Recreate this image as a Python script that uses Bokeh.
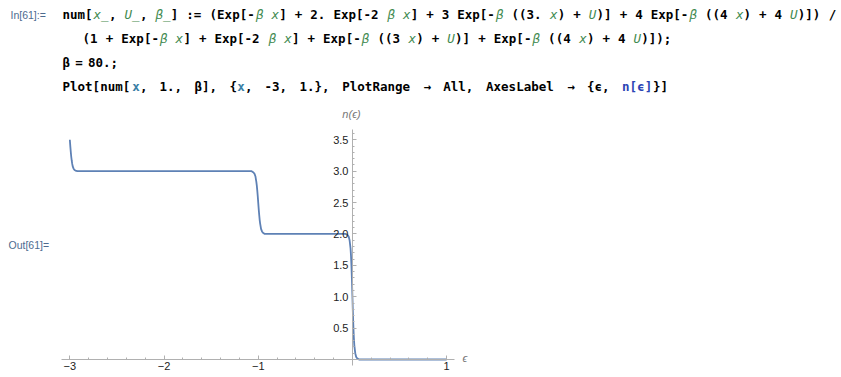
from bokeh.plotting import figure
from bokeh.models import Range1d, LinearAxis, FixedTicker, Label
from bokeh.embed import file_html
from bokeh.resources import INLINE

# ---- data ----
eps = [-3.0, -2.995, -2.99, -2.985, -2.98, -2.975, -2.97, -2.96, -2.95, -2.94, -2.92, -2.9,
       -2.5, -2.0, -1.5, -1.2, -1.1, -1.07, -1.05, -1.04, -1.03, -1.02, -1.015, -1.01, -1.005,
       -1.0, -0.995, -0.99, -0.985, -0.98, -0.97, -0.96, -0.95, -0.93, -0.9, -0.5, -0.2, -0.1,
       -0.07, -0.05, -0.04, -0.03, -0.02, -0.015, -0.01, -0.005, 0.0, 0.005, 0.01, 0.015, 0.02,
       0.03, 0.04, 0.05, 0.07, 0.1, 0.5, 1.0]
n_eps = [3.50, 3.40, 3.31, 3.23, 3.17, 3.12, 3.08, 3.04, 3.02, 3.01, 3.00, 3.00,
         3.00, 3.00, 3.00, 3.00, 3.00, 3.00, 2.98, 2.96, 2.92, 2.83, 2.77, 2.69, 2.60,
         2.50, 2.40, 2.31, 2.23, 2.17, 2.08, 2.04, 2.02, 2.00, 2.00, 2.00, 2.00, 2.00,
         2.00, 1.98, 1.96, 1.90, 1.77, 1.65, 1.48, 1.26, 1.00, 0.74, 0.52, 0.35, 0.23,
         0.10, 0.04, 0.02, 0.00, 0.00, 0.00, 0.00]

x_major = [-3, -2, -1, 0, 1]
x_tick_labels = ["\u22123", "\u22122", "\u22121", "", "1"]
x_minor = [-3 + 0.2 * i for i in range(21)]
y_major = [0, 0.5, 1.0, 1.5, 2.0, 2.5, 3.0, 3.5]
y_tick_labels = ["", "0.5", "1.0", "1.5", "2.0", "2.5", "3.0", "3.5"]
y_minor = [round(0.1 * i, 1) for i in range(37)]

# ---- figure mapped onto the notebook window ----
p = figure(width=841, height=377, output_backend="svg", toolbar_location=None,
           x_axis_type=None, y_axis_type=None, min_border=0,
           x_range=Range1d(-3.736, 5.192), y_range=Range1d(-0.2868, 5.719))
p.outline_line_color = None
p.background_fill_color = "white"
p.border_fill_color = "white"

AX = "#b0b0b0"
TL = "#222222"
xa = LinearAxis(ticker=FixedTicker(ticks=x_major, minor_ticks=x_minor), fixed_location=0,
                bounds=(-3.09, 1.08),
                major_label_overrides={k: v for k, v in zip(x_major, x_tick_labels)})
xa.axis_line_color = AX
xa.major_tick_line_color = AX
xa.minor_tick_line_color = AX
xa.major_tick_in = 4
xa.major_tick_out = 0
xa.minor_tick_in = 2
xa.minor_tick_out = 0
xa.major_label_standoff = 3
xa.major_label_text_font = "Liberation Sans"
xa.major_label_text_font_size = "11px"
xa.major_label_text_color = TL
p.add_layout(xa, "below")

ya = LinearAxis(ticker=FixedTicker(ticks=y_major, minor_ticks=y_minor), fixed_location=0,
                bounds=(-0.1, 3.66),
                major_label_overrides={k: v for k, v in zip(y_major, y_tick_labels)})
ya.axis_line_color = AX
ya.major_tick_line_color = AX
ya.minor_tick_line_color = AX
ya.major_tick_in = 4
ya.major_tick_out = 0
ya.minor_tick_in = 2
ya.minor_tick_out = 0
ya.major_label_standoff = 4
ya.major_label_text_font = "Liberation Sans"
ya.major_label_text_font_size = "11px"
ya.major_label_text_color = TL
p.add_layout(ya, "left")

p.line(eps, n_eps, line_color="#5E81B5", line_width=1.8)

H = 377


def lab(x, ytop, text, color="#000000", size="11px", font="Liberation Sans", style="normal",
        align="left"):
    p.add_layout(Label(x=x, y=H - ytop, x_units="screen", y_units="screen", text=text,
                       text_color=color, text_font_size=size, text_font=font,
                       text_font_style=style, text_baseline="middle", text_align=align))


# axis labels
lab(351, 113, "n(\u03f5)", color="#777777", size="11px", style="italic", align="center")
lab(462, 357, "\u03f5", color="#777777", size="11px", style="italic")

# cell labels
lab(10, 14, "In[61]:=", color="#4d6b8f", size="10.5px")
lab(8, 244, "Out[61]=", color="#4d6b8f", size="10.5px")

K = "#000000"
G = "#3f8a4f"
T = "#3a7fa6"
B = "#2b45b5"

line1 = [("num[", K), ("x_", G), (", ", K), ("U_", G), (", ", K), ("\u03b2_", G),
         ("] := (Exp[-", K), ("\u03b2", G), (" ", K), ("x", G), ("] + 2. Exp[-2 ", K),
         ("\u03b2", G), (" ", K), ("x", G), ("] + 3 Exp[-", K), ("\u03b2", G), (" ((3. ", K),
         ("x", G), (") + ", K), ("U", G), (")] + 4 Exp[-", K), ("\u03b2", G), (" ((4 ", K),
         ("x", G), (") + 4 ", K), ("U", G), (")]) /", K)]
line2 = [("(1 + Exp[-", K), ("\u03b2", G), (" ", K), ("x", G), ("] + Exp[-2 ", K), ("\u03b2", G),
         (" ", K), ("x", G), ("] + Exp[-", K), ("\u03b2", G), (" ((3 ", K), ("x", G),
         (") + ", K), ("U", G), (")] + Exp[-", K), ("\u03b2", G), (" ((4 ", K), ("x", G),
         (") + 4 ", K), ("U", G), (")]);", K)]
line3 = [("\u03b2 = 80.;", K)]
line4 = [("Plot[num[", K), ("x", T), (", 1., \u03b2], {", K), ("x", T),
         (", -3, 1.}, PlotRange \u2192 All, AxesLabel \u2192 {\u03f5, ", K), ("n[\u03f5]", B),
         ("}]", K)]

# (segments, left x, centre y, char advance, space advance)
code_lines = [(line1, 62, 14, 7.74, 7.74), (line2, 82, 38, 7.76, 7.76),
              (line3, 62, 62, 7.74, 5.0), (line4, 62, 86, 7.74, 11.8)]

for segs, x0, yc, cw, sw in code_lines:
    xpos = x0
    for text, col in segs:
        style = "italic" if col == G else "bold"
        tok = ""
        start = xpos
        for ch in text:
            if ch == " ":
                if tok:
                    lab(start, yc, tok, color=col, size="12.5px",
                        font="DejaVu Sans Mono", style=style)
                tok = ""
                xpos += sw
                start = xpos
            else:
                tok += ch
                xpos += cw
        if tok:
            lab(start, yc, tok, color=col, size="12.5px",
                font="DejaVu Sans Mono", style=style)

open("out.html", "w").write(file_html(p, INLINE))
